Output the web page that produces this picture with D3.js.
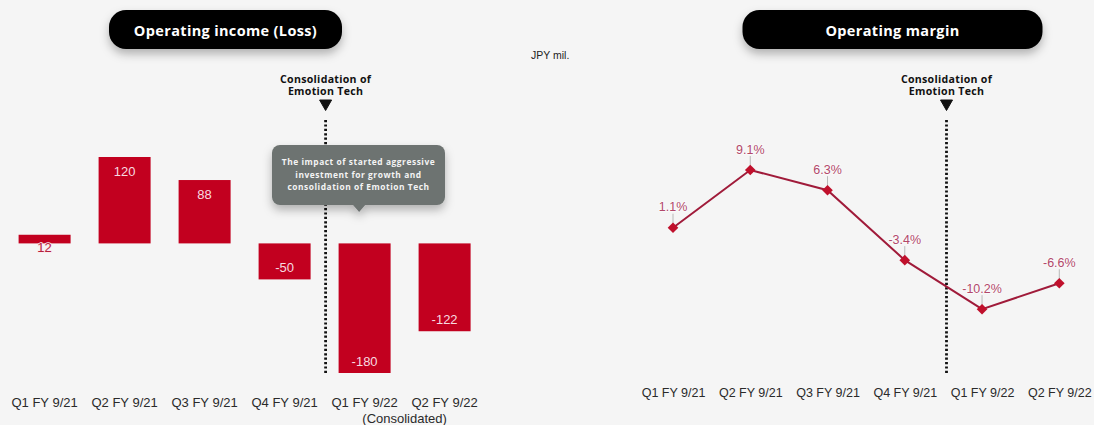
<!DOCTYPE html>
<html>
<head>
<meta charset="utf-8">
<script src="https://cdn.jsdelivr.net/npm/d3@7"></script>
<style>
  html, body { margin: 0; padding: 0; background: #f5f5f5; }
  svg { display: block; }
</style>
</head>
<body>
<svg id="chart" width="1094" height="425"></svg>
<script>
// Quarterly operating results
const quarters = ["Q1 FY 9/21", "Q2 FY 9/21", "Q3 FY 9/21", "Q4 FY 9/21", "Q1 FY 9/22", "Q2 FY 9/22"];
const operatingIncome = [12, 120, 88, -50, -180, -122];      // JPY mil.
const operatingMargin = [1.1, 9.1, 6.3, -3.4, -10.2, -6.6];  // %
const titles = ["Operating income (Loss)", "Operating margin"];
const eventLabel = ["Consolidation of", "Emotion Tech"];
const calloutLines = ["The impact of started aggressive", "investment for growth and", "consolidation of Emotion Tech"];
const unitLabel = "JPY mil.";
const consolidatedNote = "(Consolidated)";
const eventIndex = 4; // first consolidated quarter

const RED = "#c2001f";
const LINE = "#a01b3a";
const svg = d3.select("#chart");

// shared drop shadow
const defs = svg.append("defs");
const sh = defs.append("filter").attr("id", "shadow")
  .attr("x", "-20%").attr("y", "-40%").attr("width", "140%").attr("height", "200%");
sh.append("feDropShadow").attr("dx", 0).attr("dy", 5).attr("stdDeviation", 5)
  .attr("flood-color", "#000").attr("flood-opacity", 0.28);

function pill(cx, text) {
  const g = svg.append("g");
  const w = cx.w;
  g.append("rect").attr("x", cx.x - w / 2).attr("y", 10).attr("width", w).attr("height", 39)
    .attr("rx", 17).attr("fill", "#030303").attr("filter", "url(#shadow)");
  g.append("text").attr("x", cx.x).attr("y", 35.5).attr("text-anchor", "middle")
    .attr("font-family", "'Open Sans', sans-serif").attr("font-weight", 700)
    .attr("font-size", 14.5).attr("letter-spacing", 0.35).attr("fill", "#fff").text(text);
}

function eventMarker(x) {
  const g = svg.append("g").attr("font-family", "'Open Sans', sans-serif")
    .attr("font-weight", 700).attr("font-size", 10.6).attr("letter-spacing", 0.3)
    .attr("fill", "#111").attr("text-anchor", "middle");
  eventLabel.forEach((t, i) => g.append("text").attr("x", x).attr("y", 82.5 + i * 12.5).text(t));
  g.append("path").attr("d", `M${x - 6},100 L${x + 6},100 L${x},110.5 Z`).attr("fill", "#111")
    .attr("stroke", "#111").attr("stroke-width", 1).attr("stroke-linejoin", "round");
  svg.append("line").attr("x1", x).attr("x2", x).attr("y1", 120).attr("y2", 375)
    .attr("stroke", "#111").attr("stroke-width", 2.8).attr("stroke-dasharray", "2.2,2.2");
}

// ---------- Left: operating income bars ----------
pill({ x: 225.5, w: 233 }, titles[0]);

const xb = d3.scaleBand().domain(quarters).range([4.6, 484.6]).paddingInner(0.35).paddingOuter(0.175);
const yb = d3.scaleLinear().domain([-180, 120]).range([373, 157]);

const eventXLeft = xb(quarters[eventIndex - 1]) + xb.bandwidth() + (xb.step() - xb.bandwidth()) / 2 + 1;
eventMarker(eventXLeft);

const bars = svg.append("g");
bars.selectAll("rect").data(operatingIncome).join("rect")
  .attr("x", (d, i) => xb(quarters[i]))
  .attr("y", d => yb(Math.max(0, d)))
  .attr("width", xb.bandwidth())
  .attr("height", d => Math.abs(yb(d) - yb(0)))
  .attr("fill", RED);

const small = d => Math.abs(yb(d) - yb(0)) < 20;
bars.selectAll("text").data(operatingIncome).join("text")
  .attr("x", (d, i) => xb(quarters[i]) + xb.bandwidth() / 2)
  .attr("y", d => small(d) ? yb(0) + 9 : (d >= 0 ? yb(d) + 19 : yb(d) - 7))
  .attr("text-anchor", "middle")
  .attr("font-family", "'Liberation Sans', Arial, sans-serif").attr("font-size", 13)
  .attr("fill", d => small(d) ? "#b4203c" : "#f7dbe0")
  .attr("stroke", d => small(d) ? "#fbe9ec" : "none")
  .attr("stroke-width", 1.6).attr("paint-order", "stroke")
  .text(d => d);

const axL = svg.append("g").attr("transform", "translate(0,397.5)")
  .call(d3.axisBottom(xb).tickSize(0).tickPadding(0));
axL.select(".domain").remove();
axL.selectAll("text").attr("font-family", "'Liberation Sans', Arial, sans-serif")
  .attr("font-size", 13).attr("fill", "#2a2a2a");

svg.append("text")
  .attr("x", (xb(quarters[4]) + xb(quarters[5]) + xb.bandwidth()) / 2)
  .attr("y", 422.5).attr("text-anchor", "middle")
  .attr("font-family", "'Liberation Sans', Arial, sans-serif").attr("font-size", 13)
  .attr("fill", "#2a2a2a").text(consolidatedNote);

// callout bubble
const cxCall = xb(quarters[4]) + xb.bandwidth() / 2 - 5.5;
const call = svg.append("g").attr("filter", "url(#shadow)");
call.append("rect").attr("x", 272).attr("y", 145).attr("width", 173).attr("height", 60)
  .attr("rx", 8).attr("fill", "#6d7371");
call.append("path").attr("d", `M${cxCall - 7},204 L${cxCall + 7},204 L${cxCall},212 Z`).attr("fill", "#6d7371");
const callText = svg.append("g").attr("font-family", "'Open Sans', sans-serif").attr("font-weight", 700)
  .attr("font-size", 8.4).attr("fill", "#f4f4f4").attr("text-anchor", "middle").attr("letter-spacing", 0.55);
calloutLines.forEach((t, i) => callText.append("text").attr("x", 358.5).attr("y", 165 + i * 12.5).text(t));

// unit
svg.append("text").attr("x", 531).attr("y", 59)
  .attr("font-family", "'Liberation Sans', Arial, sans-serif").attr("font-size", 10.5)
  .attr("fill", "#222").text(unitLabel);

// ---------- Right: operating margin line ----------
pill({ x: 892.5, w: 300 }, titles[1]);

const xp = d3.scalePoint().domain(quarters).range([673, 1059.3]);
const ym = d3.scaleLinear().domain([-10.2, 9.1]).range([309.2, 170]);

const eventXRight = xp(quarters[eventIndex - 1]) + xp.step() * 0.54;
eventMarker(eventXRight);

const pts = operatingMargin.map((d, i) => [xp(quarters[i]), ym(d)]);

svg.append("path").datum(pts)
  .attr("d", d3.line())
  .attr("fill", "none").attr("stroke", LINE).attr("stroke-width", 2);

// leader lines and value labels
const lab = svg.append("g");
lab.selectAll("line").data(operatingMargin).join("line")
  .attr("x1", (d, i) => xp(quarters[i])).attr("x2", (d, i) => xp(quarters[i]))
  .attr("y1", d => ym(d) - 14).attr("y2", d => ym(d) - 2)
  .attr("stroke", "#a9a9a9").attr("stroke-width", 0.8);

svg.append("g").selectAll("path").data(operatingMargin).join("path")
  .attr("transform", (d, i) => `translate(${xp(quarters[i])},${ym(d)})`)
  .attr("d", d3.symbol(d3.symbolDiamond2, 72))
  .attr("fill", "#c0102c");

lab.selectAll("text").data(operatingMargin).join("text")
  .attr("x", (d, i) => xp(quarters[i])).attr("y", d => ym(d) - 16.5)
  .attr("text-anchor", "middle")
  .attr("font-family", "'Liberation Sans', Arial, sans-serif").attr("font-size", 12.5)
  .attr("fill", "#b2486a").attr("stroke", "#fbfbfb").attr("stroke-width", 1.5)
  .attr("paint-order", "stroke")
  .text(d => d.toFixed(1) + "%");

const axR = svg.append("g").attr("transform", "translate(0,388.6)")
  .call(d3.axisBottom(xp).tickSize(0).tickPadding(0));
axR.select(".domain").remove();
axR.selectAll("text").attr("font-family", "'Liberation Sans', Arial, sans-serif")
  .attr("font-size", 12.5).attr("fill", "#2a2a2a");
</script>
</body>
</html>
